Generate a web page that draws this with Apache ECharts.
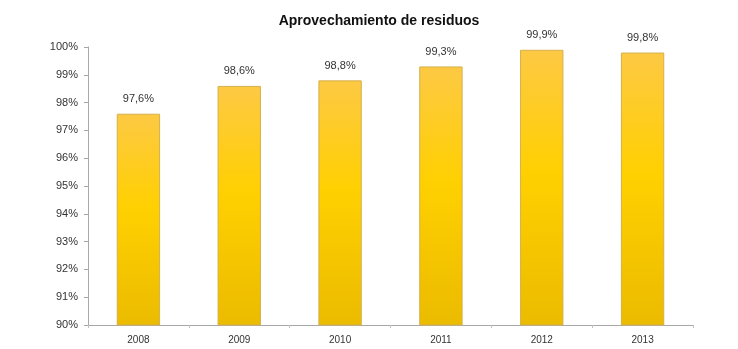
<!DOCTYPE html>
<html>
<head>
<meta charset="utf-8">
<script src="https://cdn.jsdelivr.net/npm/echarts@6/dist/echarts.min.js"></script>
<style>
  html, body { margin: 0; padding: 0; background: #fff; }
  #chart { width: 738px; height: 349px; }
</style>
</head>
<body>
<div id="chart"></div>
<script>
// Waste recovery rate per year (%)
const years = ['2008', '2009', '2010', '2011', '2012', '2013'];
const recovery = [97.6, 98.6, 98.8, 99.3, 99.9, 99.8];
const chartTitle = 'Aprovechamiento de residuos';

const chart = echarts.init(document.getElementById('chart'), null, { renderer: 'canvas' });

const pct = v => String(v.toFixed(1)).replace('.', ',') + '%';

chart.setOption({
  animation: false,
  backgroundColor: '#ffffff',
  title: {
    text: chartTitle,
    left: 374,
    textAlign: 'center',
    top: 9,
    textStyle: { fontFamily: 'Liberation Sans, Arial, sans-serif', fontSize: 14, fontWeight: 'bold', color: '#111' }
  },
  grid: { left: 88, right: 45, top: 47, bottom: 24, containLabel: false },
  xAxis: {
    type: 'category',
    data: years,
    axisLine: { lineStyle: { color: '#a8a8a8', width: 1 } },
    axisTick: { show: true, alignWithLabel: false, length: 3, lineStyle: { color: '#c0c0c0' } },
    axisLabel: { color: '#333', fontSize: 10, margin: 10, fontFamily: 'Liberation Sans, Arial, sans-serif' }
  },
  yAxis: {
    type: 'value',
    min: 90,
    max: 100,
    interval: 1,
    axisLine: { show: true, lineStyle: { color: '#a8a8a8', width: 1 } },
    axisTick: { show: true, length: 4, lineStyle: { color: '#a8a8a8' } },
    splitLine: { show: false },
    axisLabel: {
      color: '#333', fontSize: 11, margin: 10,
      fontFamily: 'Liberation Sans, Arial, sans-serif',
      formatter: v => v + '%'
    }
  },
  series: [{
    type: 'bar',
    data: recovery,
    barWidth: '43%',
    itemStyle: {
      color: new echarts.graphic.LinearGradient(0, 0, 0, 1, [
        { offset: 0, color: '#fdc944' },
        { offset: 0.45, color: '#ffd000' },
        { offset: 1, color: '#ebbb00' }
      ]),
      borderColor: '#d4b04c',
      borderWidth: 1
    },
    label: {
      show: true,
      position: 'top',
      distance: 9,
      color: '#333',
      fontSize: 11,
      fontFamily: 'Liberation Sans, Arial, sans-serif',
      formatter: p => pct(p.value)
    }
  }]
});
</script>
</body>
</html>
